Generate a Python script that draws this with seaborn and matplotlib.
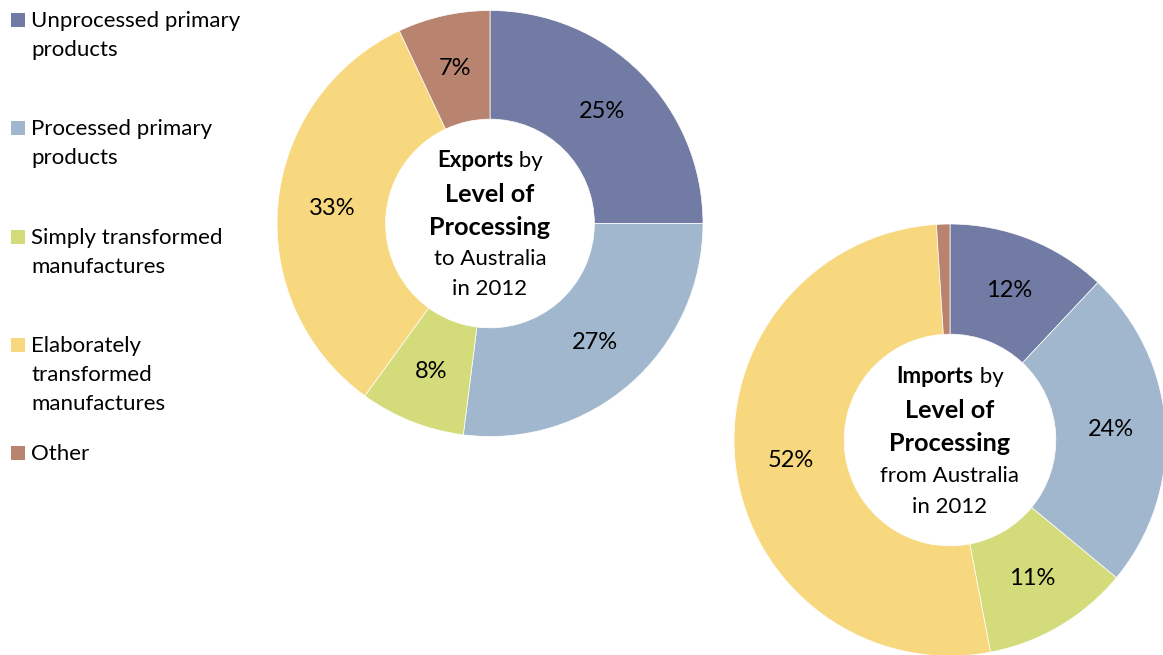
import matplotlib
matplotlib.use("Agg")
import matplotlib.pyplot as plt
import seaborn as sns
from matplotlib.patches import Rectangle

sns.set_theme(style="white")
plt.rcParams["font.family"] = ["Lato", "DejaVu Sans"]
plt.rcParams["text.color"] = "black"

# Categories and shares (%)
categories = [
    "Unprocessed primary\nproducts",
    "Processed primary\nproducts",
    "Simply transformed\nmanufactures",
    "Elaborately\ntransformed\nmanufactures",
    "Other",
]
exports_share = [25, 27, 8, 33, 7]
imports_share = [12, 24, 11, 52, 1]

palette = sns.color_palette(["#717BA3", "#A1B7CE", "#D4DB7B", "#F8D87E", "#B8836F"])

W, H = 1163, 655
fig = plt.figure(figsize=(W / 100, H / 100), dpi=100)


def px_axes(cx, cy, r):
    return fig.add_axes([(cx - r) / W, (H - cy - r) / H, 2 * r / W, 2 * r / H])


def donut(ax, values):
    ax.pie(
        values,
        colors=palette,
        startangle=90,
        counterclock=False,
        radius=1.0,
        wedgeprops=dict(width=0.51, edgecolor="white", linewidth=0.5),
        autopct=lambda p: f"{p:.0f}%" if p >= 2 else "",
        pctdistance=0.745,
        textprops=dict(fontsize=17, color="black"),
    )
    ax.set_xlim(-1, 1)
    ax.set_ylim(-1, 1)
    ax.set_aspect("equal")
    ax.axis("off")


def center_title(ax, lead, tail, sub1, sub2):
    renderer = fig.canvas.get_renderer()
    fs_small, fs_big = 16, 18.2
    # first line: bold word followed by regular text, centred together
    y_first = 0.265
    t1 = ax.text(0, y_first, lead, fontsize=fs_small, fontweight="bold",
                 ha="left", va="baseline")
    w1 = t1.get_window_extent(renderer).width
    t2 = ax.text(0, y_first, tail, fontsize=fs_small, ha="left", va="baseline")
    w2 = t2.get_window_extent(renderer).width
    inv = ax.transData.inverted()
    x0 = inv.transform((0, 0))[0]
    half = inv.transform(((w1 + w2) / 2, 0))[0] - x0
    step = inv.transform((w1, 0))[0] - x0
    t1.set_x(-half)
    t2.set_x(-half + step)
    ax.text(0, 0.103, "Level of", fontsize=fs_big, fontweight="bold",
            ha="center", va="baseline")
    ax.text(0, -0.052, "Processing", fontsize=fs_big, fontweight="bold",
            ha="center", va="baseline")
    ax.text(0, -0.195, sub1, fontsize=fs_small, ha="center", va="baseline")
    ax.text(0, -0.336, sub2, fontsize=fs_small, ha="center", va="baseline")


ax1 = px_axes(490, 223.5, 213)
donut(ax1, exports_share)
center_title(ax1, "Exports", " by", "to Australia", "in 2012")

ax2 = px_axes(950, 440, 216)
donut(ax2, imports_share)
center_title(ax2, "Imports", " by", "from Australia", "in 2012")

# Legend with fixed slots
for i, (label, color) in enumerate(zip(categories, palette)):
    top = 13 + i * 108.3
    fig.patches.append(Rectangle((11 / W, 1 - (top + 14) / H), 14 / W, 14 / H,
                                 transform=fig.transFigure, facecolor=color,
                                 edgecolor="none"))
    fig.text(31 / W, 1 - (top - 2) / H, label, fontsize=16, ha="left",
             va="top", linespacing=1.56)

fig.savefig("out.png", dpi=100)
